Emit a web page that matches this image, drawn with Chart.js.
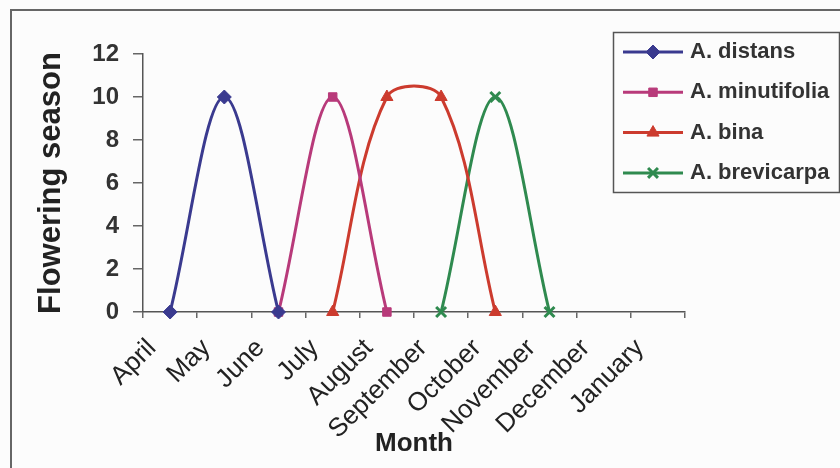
<!DOCTYPE html>
<html>
<head>
<meta charset="utf-8">
<title>Flowering season</title>
<script src="https://cdn.jsdelivr.net/npm/chart.js@4.4.1/dist/chart.umd.min.js"></script>
<style>
  body { margin: 0; background: #fcfcfc; }
  #wrap { position: relative; width: 840px; height: 468px; overflow: hidden; }
  #frame { position: absolute; left: 10px; top: 9px; width: 900px; height: 520px;
           border-left: 2px solid #666; border-top: 2px solid #666; }
  canvas { position: absolute; left: 0; top: 0; }
</style>
</head>
<body>
<div id="wrap">
  <div id="frame"></div>
  <canvas id="flowerChart" width="840" height="468"></canvas>
</div>
<script>
// ------------------ DATA ------------------
const months = ["April", "May", "June", "July", "August", "September",
                "October", "November", "December", "January"];
const distans     = [0, 10, 0, null, null, null, null, null, null, null];
const minutifolia = [null, null, 0, 10, 0, null, null, null, null, null];
const bina        = [null, null, null, 0, 10, 10, 0, null, null, null];
const brevicarpa  = [null, null, null, null, null, 0, 10, 0, null, null];
const yTicks = [0, 2, 4, 6, 8, 10, 12];

const FONT = "'Liberation Sans', Arial, sans-serif";

// ------------------ HELPERS ------------------
function series(label, values, color, style, radius) {
  return {
    label: label,
    data: values,
    borderColor: color,
    backgroundColor: color,
    pointBackgroundColor: color,
    pointBorderColor: color,
    pointStyle: style,
    pointRadius: radius,
    pointBorderWidth: style === "crossRot" ? 3 : 1,
    borderWidth: 3,
    tension: 0.35,
    spanGaps: false,
    clip: false,
  };
}

// legend drawn as a framed box, Excel style
const boxLegend = {
  id: "boxLegend",
  afterDraw(chart) {
    const ctx = chart.ctx;
    ctx.save();
    ctx.strokeStyle = "#555";
    ctx.lineWidth = 1.5;
    ctx.strokeRect(613.5, 32.5, 226, 160);
    chart.data.datasets.forEach((ds, i) => {
      const y = 52 + i * 40.3;
      ctx.strokeStyle = ds.borderColor;
      ctx.lineWidth = 3;
      ctx.beginPath();
      ctx.moveTo(623, y);
      ctx.lineTo(683, y);
      ctx.stroke();
      ctx.fillStyle = ds.pointBackgroundColor;
      ctx.strokeStyle = ds.pointBorderColor;
      ctx.lineWidth = ds.pointBorderWidth;
      Chart.helpers.drawPoint(ctx, {
        pointStyle: ds.pointStyle,
        radius: ds.pointRadius,
        borderWidth: ds.pointBorderWidth,
        rotation: 0,
      }, 653, y);
      ctx.fillStyle = "#333";
      ctx.font = "bold 22px " + FONT;
      ctx.textBaseline = "middle";
      ctx.textAlign = "left";
      ctx.fillText(ds.label, 690, y);
    });
    ctx.restore();
  },
};

// ------------------ CHART ------------------
const ctx = document.getElementById("flowerChart").getContext("2d");
new Chart(ctx, {
  type: "line",
  data: {
    labels: months,
    datasets: [
      series("A. distans", distans, "#3a3a8f", "rectRot", 7),
      series("A. minutifolia", minutifolia, "#b83a7a", "rect", 6),
      series("A. bina", bina, "#cc3b2e", "triangle", 7),
      series("A. brevicarpa", brevicarpa, "#2f8a4f", "crossRot", 7),
    ],
  },
  options: {
    responsive: false,
    animation: false,
    layout: { padding: { top: 54, right: 155, bottom: 0, left: 0 } },
    plugins: {
      legend: { display: false },
      tooltip: { enabled: false },
    },
    scales: {
      x: {
        offset: true,
        afterFit(scale) { scale.height = 156; },
        grid: { offset: true, drawOnChartArea: false, drawTicks: true, tickLength: 6, color: "#666", lineWidth: 1.5 },
        border: { display: true, color: "#555", width: 1.5 },
        ticks: {
          autoSkip: false,
          minRotation: 45,
          maxRotation: 45,
          padding: 15,
          labelOffset: -18,
          color: "#222",
          font: { family: FONT, size: 26 },
        },
        title: {
          display: true,
          text: "Month",
          color: "#222",
          padding: { top: 0, bottom: 9 },
          font: { family: FONT, size: 26, weight: "bold" },
        },
      },
      y: {
        min: 0,
        max: 12,
        afterFit(scale) { scale.width = 143; },
        afterBuildTicks(scale) { scale.ticks = yTicks.map(v => ({ value: v })); },
        grid: { drawOnChartArea: false, drawTicks: true, tickLength: 10, color: "#666", lineWidth: 1.5 },
        border: { display: true, color: "#555", width: 1.5 },
        ticks: {
          padding: 14,
          color: "#333",
          font: { family: FONT, size: 24, weight: "bold" },
        },
        title: {
          display: true,
          text: "Flowering season",
          color: "#222",
          padding: { top: 33, bottom: 0 },
          font: { family: FONT, size: 31, weight: "bold" },
        },
      },
    },
  },
  plugins: [boxLegend],
});
</script>
</body>
</html>
